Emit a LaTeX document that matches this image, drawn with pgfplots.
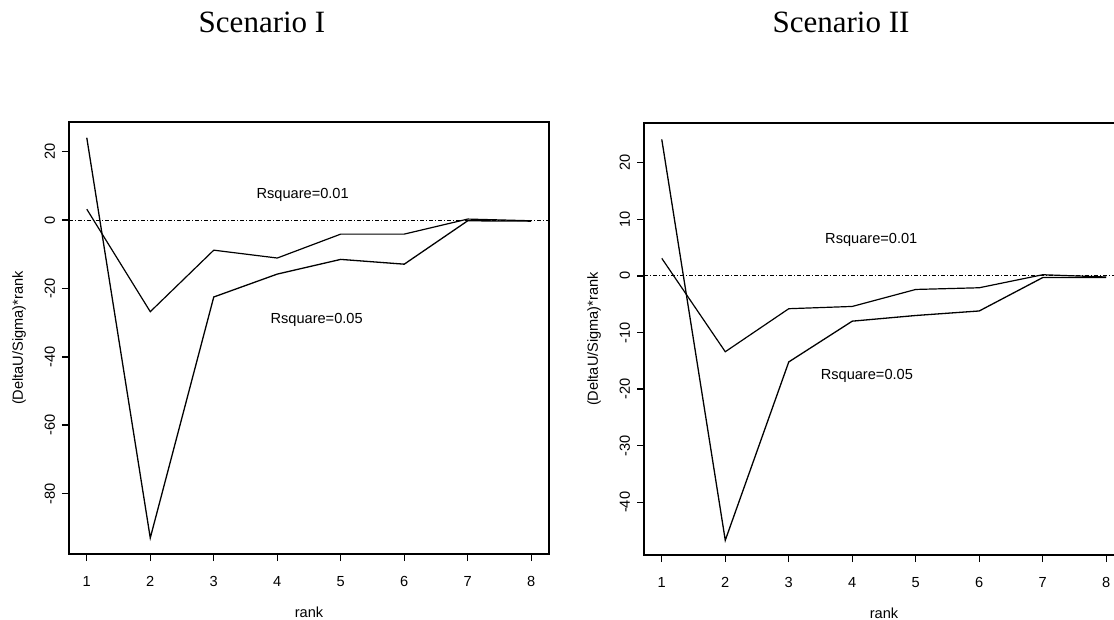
\documentclass[border=0pt]{standalone}
\usepackage{fontspec}
\setmainfont{Liberation Sans}
\newfontfamily\titlefont{Liberation Serif}
\usepackage{pgfplots}
\pgfplotsset{compat=1.18}

\newcommand\rfont{\fontsize{7.3}{8.6}\selectfont}

% R-like panel style
\pgfplotsset{rpanel/.style={
    scale only axis,
    width=240pt, height=216pt,
    xmin=0.72, xmax=8.28,
    xtick={1,...,8},
    tick align=outside,
    tick pos=left,
    major tick length=3.5pt,
    axis line style={line width=0.7pt},
    tick style={black, line width=0.7pt},
    font=\rfont,
    ticklabel style={font=\rfont},
    /pgf/number format/assume math mode=true,
    xticklabel style={yshift=-4pt},
    yticklabel style={rotate=90, anchor=south},
    xlabel={rank},
    ylabel={(DeltaU/Sigma)*rank},
    every axis x label/.style={at={(axis description cs:0.5,0)}, anchor=center, yshift=-29pt},
    every axis y label/.style={at={(axis description cs:0,0.5)}, anchor=center, rotate=90, yshift=25pt},
    cycle list={{black, line width=0.65pt, mark=none}},
}}

\begin{document}
\begin{tikzpicture}
\useasboundingbox (0,0) rectangle (557pt,-310pt);

\node[anchor=base, font=\titlefont\fontsize{15.5}{18}\selectfont] at (131pt,-16.5pt) {Scenario I};
\node[anchor=base, font=\titlefont\fontsize{15.5}{18}\selectfont] at (420.5pt,-16.5pt) {Scenario II};

% Scenario I
\begin{axis}[rpanel,
    at={(34.5pt,-277pt)}, anchor=south west,
    ymin=-97.7, ymax=28.7,
    ytick={-80,-60,-40,-20,0,20}]
\addplot[black, line width=0.55pt, dash pattern=on 2pt off 1pt on 0.5pt off 1pt] coordinates {(0.72,0) (8.28,0)};
% Rsquare=0.05
\addplot[black, line width=0.65pt] coordinates {(1,24.1) (2,-93) (3,-22.5) (4,-15.8) (5,-11.5) (6,-12.9) (7,-0.2) (8,-0.3)};
% Rsquare=0.01
\addplot[black, line width=0.6pt] coordinates {(1,3.2) (2,-26.8) (3,-8.8) (4,-11.1) (5,-4.1) (6,-4.1) (7,0.3) (8,-0.2)};
\node[font=\rfont] at (axis cs:4.40,7.3) {Rsquare=0.01};
\node[font=\rfont] at (axis cs:4.62,-29.2) {Rsquare=0.05};
\end{axis}

% Scenario II
\begin{axis}[rpanel,
    at={(322pt,-277.5pt)}, anchor=south west,
    ymin=-49.3, ymax=27,
    ytick={-40,-30,-20,-10,0,10,20}]
\addplot[black, line width=0.55pt, dash pattern=on 2pt off 1pt on 0.5pt off 1pt] coordinates {(0.72,0) (8.28,0)};
% Rsquare=0.05
\addplot[black, line width=0.65pt] coordinates {(1,24.1) (2,-46.7) (3,-15.2) (4,-8.0) (5,-7.0) (6,-6.2) (7,-0.3) (8,-0.3)};
% Rsquare=0.01
\addplot[black, line width=0.6pt] coordinates {(1,3.1) (2,-13.4) (3,-5.8) (4,-5.4) (5,-2.4) (6,-2.1) (7,0.2) (8,-0.2)};
\node[font=\rfont] at (axis cs:4.30,6.3) {Rsquare=0.01};
\node[font=\rfont] at (axis cs:4.23,-17.6) {Rsquare=0.05};
\end{axis}
\end{tikzpicture}
\end{document}
